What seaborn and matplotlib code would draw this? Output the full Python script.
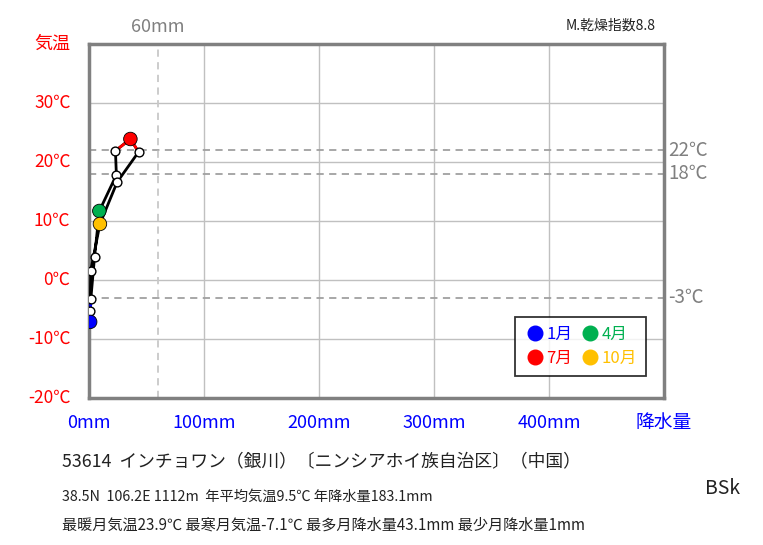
import numpy as np
import pandas as pd
import matplotlib
matplotlib.use("Agg")
import matplotlib.pyplot as plt
import seaborn as sns

# monthly climate normals
months = list(range(1, 13))
temps = [-7.1, -3.2, 3.9, 11.7, 17.8, 21.9, 23.9, 21.7, 16.6, 9.5, 1.6, -5.3]
precip = [1.0, 1.6, 4.8, 9.0, 23.8, 23.0, 36.0, 43.1, 24.5, 9.5, 1.5, 1.0]

temp_ticks = [-20, -10, 0, 10, 20, 30]
precip_ticks = [0, 100, 200, 300, 400]
ref_temps = [22, 18, -3]
ref_precip = 60

hi_months = [1, 4, 7, 10]
hi_colors = ["#0000FF", "#00B050", "#FF0000", "#FFC000"]

title = "53614  インチョワン（銀川）〔ニンシアホイ族自治区〕（中国）"
info1 = "38.5N  106.2E 1112m  年平均気温9.5℃ 年降水量183.1mm"
info2 = "最暖月気温23.9℃ 最寒月気温-7.1℃ 最多月降水量43.1mm 最少月降水量1mm"
koppen = "BSk"
aridity = "M.乾燥指数8.8"

df = pd.DataFrame({"month": months, "temp": temps, "precip": precip})
loop = pd.concat([df, df.iloc[[0]]], ignore_index=True)

sns.set_theme(style="white")
plt.rcParams["font.family"] = ["Noto Sans CJK JP", "DejaVu Sans"]

fig = plt.figure(figsize=(7.63, 5.45), dpi=100)
ax = fig.add_axes([89 / 763, 1 - 398 / 545, 575 / 763, 354 / 545])
ax.set_xlim(0, 500)
ax.set_ylim(-20, 40)

# grid
for t in temp_ticks[1:]:
    ax.axhline(t, color="#c0c0c0", lw=1, zorder=0)
for p in precip_ticks[1:]:
    ax.axvline(p, color="#c0c0c0", lw=1, zorder=0)
for t in ref_temps:
    ax.axhline(t, color="#a0a0a0", lw=1.3, ls=(0, (4, 3)), zorder=1)
ax.axvline(ref_precip, color="#c8c8c8", lw=1.3, ls=(0, (4, 3)), zorder=1)

# black loop through all months
sns.lineplot(data=loop, x="precip", y="temp", sort=False, color="black",
             lw=2, ax=ax, zorder=3, estimator=None)

# coloured segments around warmest / coldest month
for m, c in [(1, "#0000FF"), (7, "#FF0000")]:
    i = m - 1
    seg = df.iloc[[(i - 1) % 12, i, (i + 1) % 12]]
    sns.lineplot(data=seg, x="precip", y="temp", sort=False, color=c,
                 lw=2, ax=ax, zorder=4, estimator=None)

# small white markers
others = df[~df["month"].isin(hi_months)]
sns.scatterplot(data=others, x="precip", y="temp", color="white",
                edgecolor="black", linewidth=1, s=40, ax=ax, zorder=5)
# highlighted months
hi = df[df["month"].isin(hi_months)]
sns.scatterplot(data=hi, x="precip", y="temp", hue="month",
                palette=dict(zip(hi_months, hi_colors)), edgecolor="black",
                linewidth=0.6, s=95, ax=ax, zorder=6, legend=False)

ax.set_xlabel("")
ax.set_ylabel("")
ax.set_xticks([])
ax.set_yticks([])
for s in ax.spines.values():
    s.set_color("#808080")
    s.set_linewidth(2.5)
    s.set_visible(True)

# tick labels
for t in temp_ticks:
    ax.text(-16.0, t, f"{t}℃", color="red", fontsize=12.5, ha="right",
            va="center")
ax.text(-16.0, 40, "気温", color="red", fontsize=13, ha="right", va="center")
for p in precip_ticks:
    ax.text(p, -24.2, f"{p}mm", color="#0000FF", fontsize=13, ha="center",
            va="center")
ax.text(500, -24.2, "降水量", color="#0000FF", fontsize=13.5, ha="center",
        va="center")
for t in ref_temps:
    ax.text(504, t, f"{t}℃", color="#808080", fontsize=13.5, ha="left",
            va="center")
ax.text(ref_precip, 42.8, f"{ref_precip}mm", color="#808080", fontsize=13,
        ha="center", va="center")

# legend box: row 1 = 1月, 4月 ; row 2 = 7月, 10月
order = [0, 2, 1, 3]
leg_handles = [plt.Line2D([], [], marker="o", ls="", markersize=10.5,
                          markerfacecolor=hi_colors[k],
                          markeredgecolor=hi_colors[k]) for k in order]
leg = ax.legend(leg_handles, [f"{hi_months[k]}月" for k in order], ncol=2,
                loc="lower right", bbox_to_anchor=(0.969, 0.062),
                borderaxespad=0, frameon=True, fancybox=False,
                edgecolor="black", fontsize=12, handletextpad=0.0,
                columnspacing=0.4, borderpad=0.55, handlelength=1.35,
                labelspacing=0.4)
leg.get_frame().set_linewidth(1.3)
for txt, k in zip(leg.get_texts(), order):
    txt.set_color(hi_colors[k])
leg.set_zorder(10)

# text around the chart
fig.text(62 / 763, 1 - 462 / 545, title, fontsize=12.8, va="center",
         color="#222222")
fig.text(62 / 763, 1 - 497 / 545, info1, fontsize=10.3, va="center",
         color="#222222")
fig.text(62 / 763, 1 - 525 / 545, info2, fontsize=10.9, va="center",
         color="#222222")
fig.text(723 / 763, 1 - 488 / 545, koppen, fontsize=14, va="center",
         ha="center", color="#222222")
fig.text(611 / 763, 1 - 26 / 545, aridity, fontsize=10, va="center",
         ha="center", color="#222222")

fig.savefig("out.png", dpi=100, facecolor="white")
